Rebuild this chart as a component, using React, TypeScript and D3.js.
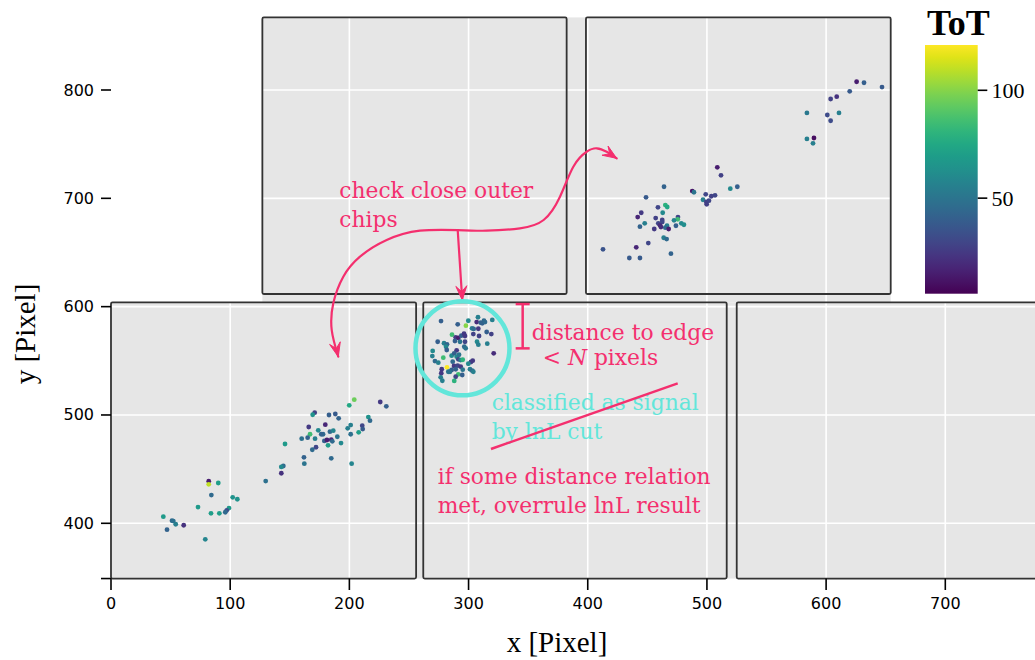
import React from "react";
import * as d3 from "d3";

// Axis breaks
const xTicks = [0, 100, 200, 300, 400, 500, 600, 700];
const yTicks = [400, 500, 600, 700, 800];
const yAxisFloor = 349;
const totTicks = [50, 100];
const totDomain: [number, number] = [5.7, 121];

// Chip outlines of the detector, in pixel units [x0, x1, y0, y1]
const chipOutlines: [number, number, number, number][] = [
  [0, 256, 349, 604],
  [262, 516.6, 349, 604],
  [525, 781, 349, 604],
  [127, 382.3, 611.7, 867],
  [398.5, 654.2, 611.7, 867],
];

// Panel backgrounds behind the chips
const panelRegions: [number, number, number, number][] = [
  [0, 790, 349, 604],
  [127, 654.2, 604, 867],
];

// Hits: [x, y, ToT]
const hitsLowerLeft: [number, number, number][] = [
  [82.0, 438.8, 15], [82.0, 436.0, 110], [90.0, 437.2, 70], [84.2, 426.1, 45],
  [102.1, 424.0, 65], [106.0, 422.2, 65], [73.0, 415.0, 68], [99.0, 414.1, 68],
  [97.1, 412.0, 32], [95.9, 410.2, 45], [83.9, 409.2, 70], [90.9, 409.2, 70],
  [43.9, 406.1, 68], [51.2, 402.4, 45], [52.3, 402.1, 48], [54.3, 399.1, 55],
  [61.0, 398.2, 22], [47.0, 394.1, 42], [79.1, 385.2, 58],
  [204.1, 514.1, 95], [199.9, 508.9, 75], [225.9, 512.0, 25], [231.0, 508.0, 40],
  [170.9, 502.1, 28], [169.2, 500.2, 65], [182.9, 500.0, 40], [188.2, 500.9, 38],
  [191.0, 496.9, 42], [215.9, 498.1, 65], [217.3, 494.7, 45], [165.9, 488.9, 25],
  [179.8, 491.0, 18], [201.1, 490.7, 55], [210.8, 490.1, 30], [211.2, 487.0, 38],
  [198.6, 487.7, 55], [173.9, 485.8, 60], [183.7, 484.6, 45], [186.5, 485.5, 58],
  [207.8, 484.0, 70], [167.0, 482.2, 85], [177.9, 482.2, 45], [176.4, 482.2, 42],
  [201.1, 482.2, 48], [189.9, 479.9, 50], [160.0, 478.1, 48], [165.0, 479.0, 42],
  [171.2, 478.1, 55], [179.0, 476.0, 40], [181.2, 476.9, 15], [184.8, 477.2, 18],
  [185.7, 475.7, 45], [193.0, 474.1, 60], [182.1, 472.0, 70], [146.0, 473.2, 68],
  [172.0, 470.2, 30], [168.9, 467.9, 45], [161.9, 460.9, 42], [184.8, 460.0, 45],
  [162.2, 455.0, 50], [201.9, 455.0, 58], [144.6, 452.9, 45], [142.9, 452.0, 60],
  [142.9, 446.2, 22], [129.8, 439.0, 48],
];

const hitsLowerCenter: [number, number, number][] = [
  [276.9, 586.7, 40], [290.9, 583.7, 40], [299.8, 587.0, 60], [307.9, 590.2, 55],
  [312.9, 587.0, 45], [311.5, 584.6, 40], [313.8, 585.8, 45], [319.9, 587.7, 55],
  [306.8, 585.8, 20], [310.2, 585.2, 42], [297.8, 582.4, 100], [302.9, 580.0, 55],
  [304.3, 579.4, 45], [308.2, 579.6, 25], [315.2, 576.6, 40], [319.1, 574.7, 28],
  [304.0, 574.7, 28], [308.8, 572.9, 28], [286.1, 574.1, 85], [289.2, 571.7, 25],
  [291.4, 571.1, 15], [293.9, 573.2, 40], [296.2, 575.0, 25], [297.0, 572.9, 25],
  [292.8, 567.6, 50], [288.6, 568.3, 40], [297.0, 567.6, 30], [307.1, 567.6, 60],
  [308.2, 564.9, 55], [315.7, 565.8, 55], [274.1, 567.6, 40], [279.4, 566.2, 55],
  [281.9, 565.2, 42], [281.1, 563.0, 60], [296.4, 563.0, 45], [297.6, 561.5, 50],
  [281.7, 560.0, 40], [269.9, 559.1, 60], [290.0, 559.7, 25], [321.1, 556.9, 20],
  [269.6, 554.4, 55], [285.8, 554.7, 60], [288.0, 556.9, 40], [278.8, 552.9, 85],
  [290.0, 553.8, 60], [292.0, 555.6, 50], [291.4, 551.4, 30], [293.4, 550.7, 55],
  [295.1, 551.0, 80], [302.0, 548.9, 28], [303.5, 550.1, 25], [299.8, 547.3, 60],
  [271.8, 549.8, 45], [274.6, 548.3, 55], [286.7, 549.2, 45], [287.8, 545.2, 25],
  [290.9, 545.5, 30], [293.4, 544.6, 25], [281.9, 544.0, 121], [277.5, 542.2, 25],
  [285.8, 541.5, 40], [289.2, 542.2, 42], [295.1, 541.8, 50], [301.2, 542.2, 55],
  [303.1, 540.9, 45], [304.0, 539.9, 55], [277.1, 538.5, 25], [291.4, 537.5, 85],
  [294.7, 536.9, 40], [276.6, 534.8, 55], [283.0, 539.9, 50], [284.4, 539.9, 50],
  [289.2, 535.3, 30], [278.0, 531.6, 55], [288.0, 531.4, 80],
];

const hitsUpperRight: [number, number, number][] = [
  [511.8, 721.2, 28], [525.5, 710.7, 40], [519.6, 708.9, 60], [464.0, 710.7, 42],
  [487.7, 706.7, 12], [489.1, 705.6, 50], [499.0, 703.7, 30], [503.7, 701.9, 28],
  [506.8, 702.8, 30], [448.9, 700.9, 38], [496.7, 698.7, 55], [499.5, 696.6, 28],
  [501.7, 697.8, 30], [499.8, 694.5, 27], [465.1, 693.8, 80], [466.7, 692.0, 75],
  [458.9, 691.7, 30], [462.9, 686.7, 60], [444.9, 686.7, 25], [441.9, 682.7, 18],
  [457.0, 681.8, 28], [475.7, 682.7, 30], [475.5, 680.6, 85], [472.4, 679.7, 58],
  [462.5, 680.0, 28], [447.8, 676.9, 55], [459.2, 676.9, 30], [462.5, 678.1, 30],
  [478.5, 676.9, 60], [480.7, 675.6, 62], [460.6, 675.1, 20], [474.0, 674.7, 40],
  [466.5, 674.7, 55], [443.8, 673.8, 42], [455.8, 671.7, 25], [465.1, 672.9, 45],
  [467.9, 671.7, 15], [461.4, 673.5, 20], [463.7, 663.6, 55], [466.2, 662.4, 45],
  [450.8, 658.7, 30], [440.7, 654.8, 18], [469.8, 648.9, 42], [412.8, 652.9, 35],
  [434.9, 644.9, 38], [443.8, 644.9, 38], [508.7, 728.6, 15],
  [625.6, 807.6, 15], [631.8, 806.7, 40], [646.9, 802.7, 38], [619.8, 798.8, 38],
  [608.9, 793.8, 22], [603.8, 791.7, 28], [583.9, 778.8, 52], [601.0, 776.9, 32],
  [610.8, 778.8, 55], [603.8, 771.6, 32], [589.8, 755.7, 10], [583.9, 754.8, 55],
  [589.0, 750.8, 55],
];

// Annotation geometry, in pixel units of the detector
const arrowToLeftChip: [number, number][] = [
  [290.9, 670.7], [259.2, 670.1], [231.3, 661.5], [208.9, 646.1], [194.9, 627.6],
  [186.5, 603.1], [185.2, 578.4], [190.7, 553.8],
];
const arrowToRightChip: [number, number][] = [
  [290.9, 670.7], [315.2, 670.1], [343.1, 672.3], [363.0, 680.0], [376.7, 701.5],
  [387.9, 729.2], [399.1, 743.0], [407.5, 746.2], [415.9, 743.0], [424.3, 736.9],
];
const arrowDown: [number, number][] = [[290.9, 670.7], [294.7, 606.1]];
const clusterCenter: [number, number] = [294.9, 561.5];
const edgeBar: [number, number, number] = [345.4, 561.5, 602.4];
const strikeLine: [number, number][] = [[318.8, 468.6], [475.5, 529.2]];

const PINK = "#f42f6e";
const CYAN = "#62e6da";
const SERIF = "'DejaVu Serif', serif";

export default function App() {
  const W = 1035;
  const H = 660;
  const x = d3.scaleLinear().domain([0, 700]).range([111, 945.3]);
  const y = d3.scaleLinear().domain([400, 800]).range([523.3, 90]);
  const color = d3.scaleSequential(d3.interpolateViridis).domain(totDomain);
  const cbar = d3.scaleLinear().domain(totDomain).range([293.7, 45]);

  const curve = d3
    .line<[number, number]>()
    .x((d) => x(d[0]))
    .y((d) => y(d[1]))
    .curve(d3.curveNatural);

  const arrowHead = (pts: [number, number][]) => {
    const n = pts.length;
    const tx = x(pts[n - 1][0]);
    const ty = y(pts[n - 1][1]);
    const px = x(pts[n - 2][0]);
    const py = y(pts[n - 2][1]);
    const len = Math.hypot(tx - px, ty - py) || 1;
    const dx = (tx - px) / len;
    const dy = (ty - py) / len;
    const L = 14;
    const Wd = 5.5;
    const nx = -dy;
    const ny = dx;
    const b1 = [tx - L * dx + Wd * nx, ty - L * dy + Wd * ny];
    const b2 = [tx - L * dx - Wd * nx, ty - L * dy - Wd * ny];
    const notch = [tx - L * 0.6 * dx, ty - L * 0.6 * dy];
    return `M${tx},${ty}L${b1[0]},${b1[1]}L${notch[0]},${notch[1]}L${b2[0]},${b2[1]}Z`;
  };

  const stops = d3.range(0, 1.0001, 0.05);
  const allHits = [...hitsLowerLeft, ...hitsLowerCenter, ...hitsUpperRight];

  return (
    <svg
      width={W}
      height={H}
      style={{ position: "absolute", left: 0, top: 0, background: "#fff" }}
    >
      <defs>
        <clipPath id="panel-clip">
          {panelRegions.map((r, i) => (
            <rect
              key={i}
              x={x(r[0])}
              y={y(r[3])}
              width={x(r[1]) - x(r[0])}
              height={y(r[2]) - y(r[3])}
            />
          ))}
        </clipPath>
        <linearGradient id="viridis" x1="0" y1="1" x2="0" y2="0">
          {stops.map((t, i) => (
            <stop key={i} offset={t} stopColor={d3.interpolateViridis(t)} />
          ))}
        </linearGradient>
      </defs>

      {/* panel backgrounds */}
      {panelRegions.map((r, i) => (
        <rect
          key={i}
          x={x(r[0])}
          y={y(r[3])}
          width={x(r[1]) - x(r[0])}
          height={y(r[2]) - y(r[3])}
          fill="#e6e6e6"
        />
      ))}

      {/* grid */}
      <g clipPath="url(#panel-clip)" stroke="#ffffff" strokeWidth={1.6}>
        {xTicks.map((t) => (
          <line key={"gx" + t} x1={x(t)} x2={x(t)} y1={0} y2={H} />
        ))}
        {yTicks.map((t) => (
          <line key={"gy" + t} x1={0} x2={W} y1={y(t)} y2={y(t)} />
        ))}
      </g>

      {/* chip outlines */}
      {chipOutlines.map((c, i) => (
        <rect
          key={i}
          x={x(c[0])}
          y={y(c[3])}
          width={x(c[1]) - x(c[0])}
          height={y(c[2]) - y(c[3])}
          fill="none"
          stroke="#333333"
          strokeWidth={1.8}
          rx={1.5}
        />
      ))}

      {/* axes */}
      <g stroke="#000" strokeWidth={1.6}>
        {[...yTicks, yAxisFloor].map((t) => (
          <line key={"ty" + t} x1={101} x2={111} y1={y(t)} y2={y(t)} />
        ))}
        {xTicks.map((t) => (
          <line key={"tx" + t} x1={x(t)} x2={x(t)} y1={y(yAxisFloor)} y2={590} />
        ))}
      </g>
      <g fontFamily="'DejaVu Sans', sans-serif" fontSize={16} fill="#000">
        {yTicks.map((t) => (
          <text key={"ly" + t} x={94} y={y(t)} textAnchor="end" dominantBaseline="central">
            {t}
          </text>
        ))}
        {xTicks.map((t) => (
          <text key={"lx" + t} x={x(t)} y={609} textAnchor="middle">
            {t}
          </text>
        ))}
      </g>
      <text
        x={557}
        y={652}
        textAnchor="middle"
        fontFamily="'Liberation Serif', serif"
        fontSize={29}
      >
        x [Pixel]
      </text>
      <text
        transform="translate(34.5,334) rotate(-90)"
        textAnchor="middle"
        fontFamily="'Liberation Serif', serif"
        fontSize={29}
      >
        y [Pixel]
      </text>

      {/* hits */}
      <g>
        {allHits.map((h, i) => (
          <circle key={i} cx={x(h[0])} cy={y(h[1])} r={2.4} fill={color(h[2])} />
        ))}
      </g>

      {/* colour bar */}
      <rect x={925} y={cbar(totDomain[1])} width={52.7} height={cbar(totDomain[0]) - cbar(totDomain[1])} fill="url(#viridis)" />
      {totTicks.map((t) => (
        <g key={"cb" + t}>
          <line x1={977.7} x2={987.3} y1={cbar(t)} y2={cbar(t)} stroke="#000" strokeWidth={1.6} />
          <text
            x={991.5}
            y={cbar(t)}
            dominantBaseline="central"
            fontFamily="'Liberation Serif', serif"
            fontSize={22}
          >
            {t}
          </text>
        </g>
      ))}
      <text x={927} y={35} fontFamily="'Liberation Serif', serif" fontWeight="bold" fontSize={36}>
        ToT
      </text>

      {/* annotations */}
      <g fill="none" stroke={PINK} strokeWidth={2.2} strokeLinecap="round">
        <path d={curve(arrowToLeftChip) ?? ""} />
        <path d={curve(arrowToRightChip) ?? ""} />
        <path d={curve(arrowDown) ?? ""} />
      </g>
      <g fill={PINK} stroke={PINK} strokeWidth={1} strokeLinejoin="round">
        <path d={arrowHead(arrowToLeftChip)} />
        <path d={arrowHead(arrowToRightChip)} />
        <path d={arrowHead(arrowDown)} />
      </g>

      <circle
        cx={x(clusterCenter[0])}
        cy={y(clusterCenter[1])}
        r={47}
        fill="none"
        stroke={CYAN}
        strokeWidth={4.5}
      />

      <g stroke={PINK} strokeWidth={2.5}>
        <line x1={x(edgeBar[0])} x2={x(edgeBar[0])} y1={y(edgeBar[2])} y2={y(edgeBar[1])} />
        <line x1={x(edgeBar[0]) - 7} x2={x(edgeBar[0]) + 7} y1={y(edgeBar[2])} y2={y(edgeBar[2])} />
        <line x1={x(edgeBar[0]) - 7} x2={x(edgeBar[0]) + 7} y1={y(edgeBar[1])} y2={y(edgeBar[1])} />
      </g>

      <g fontFamily={SERIF} fontSize={21.8}>
        <text x={x(191.5)} y={y(700)} fill={PINK}>check close outer</text>
        <text x={x(191.5)} y={y(673.2)} fill={PINK}>chips</text>
        <text x={x(353)} y={y(569.2)} fill={PINK}>distance to edge</text>
        <text x={x(362.2)} y={y(546.1)} fill={PINK}>
          {"< "}
          <tspan fontStyle="italic">N</tspan>
          {" pixels"}
        </text>
        <text x={x(319.4)} y={y(504.6)} fill={CYAN}>classified as signal</text>
        <text x={x(319.4)} y={y(477.4)} fill={CYAN}>by lnL cut</text>
        <text x={x(274.1)} y={y(436)} fill={PINK}>if some distance relation</text>
        <text x={x(274.1)} y={y(409.8)} fill={PINK}>met, overrule lnL result</text>
      </g>
      <line
        x1={x(strikeLine[0][0])}
        y1={y(strikeLine[0][1])}
        x2={x(strikeLine[1][0])}
        y2={y(strikeLine[1][1])}
        stroke={PINK}
        strokeWidth={2.5}
      />
    </svg>
  );
}
